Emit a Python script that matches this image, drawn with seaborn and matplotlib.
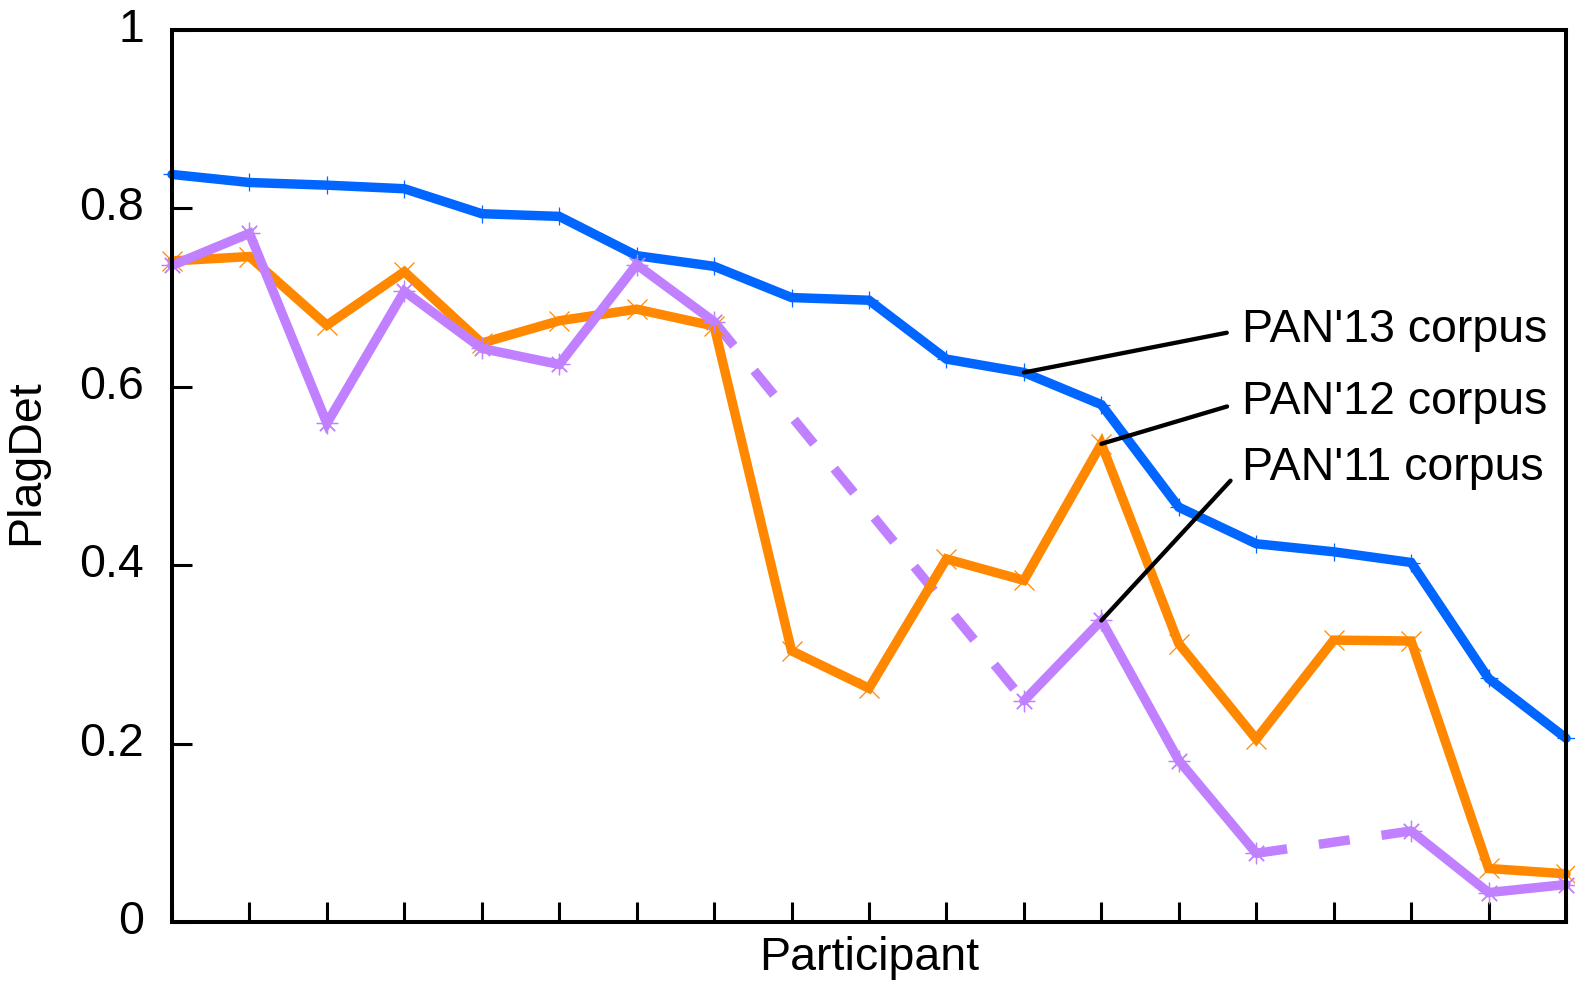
import matplotlib
matplotlib.use("Agg")
import matplotlib.pyplot as plt
import numpy as np
import pandas as pd
import seaborn as sns

# participants (ranked), PlagDet on three corpora; NaN = no result
participants = list(range(19))
pan13 = [0.838, 0.829, 0.826, 0.822, 0.794, 0.791, 0.747, 0.735, 0.700, 0.697,
         0.631, 0.616, 0.580, 0.465, 0.424, 0.415, 0.403, 0.273, 0.206]
pan12 = [0.741, 0.746, 0.669, 0.729, 0.649, 0.674, 0.687, 0.668, 0.304, 0.262,
         0.407, 0.383, 0.536, 0.312, 0.205, 0.316, 0.315, 0.060, 0.054]
pan11 = [0.736, 0.772, 0.559, 0.707, 0.643, 0.625, 0.737, 0.673, np.nan, np.nan,
         np.nan, 0.248, 0.338, 0.181, 0.077, np.nan, 0.102, 0.033, 0.042]
labels = ["PAN'13 corpus", "PAN'12 corpus", "PAN'11 corpus"]
label_y = [0.664, 0.583, 0.509]
label_target = [11, 12, 12]
y_ticks = [0, 0.2, 0.4, 0.6, 0.8, 1]

colors = ["#0066ff", "#ff8800", "#c080ff"]
markers = ["+", "x", (8, 2, 0)]
marker_sizes = [13.5, 14, 15.5]
LW = 6.8
FS = 33.5

sns.set_style("white")
plt.rcParams["font.family"] = ["Liberation Sans", "DejaVu Sans"]
plt.rcParams["font.size"] = FS
for key in ["text.color", "axes.labelcolor", "xtick.color", "ytick.color"]:
    plt.rcParams[key] = "black"

fig = plt.figure(figsize=(15.75, 9.82), dpi=100)
ax = fig.add_axes([0.1092, 0.0611, 0.8851, 0.9084])

series = [pan13, pan12, pan11]
for vals, col, mk, ms in zip(series, colors, markers, marker_sizes):
    df = pd.DataFrame({"x": participants, "y": vals})
    df["seg"] = df["y"].isna().cumsum()
    # dashed bridges over missing values
    valid = df.dropna()
    idx = valid.index.to_numpy()
    for a, b in zip(idx[:-1], idx[1:]):
        if b - a > 1:
            ax.plot([df.x[a], df.x[b]], [df.y[a], df.y[b]], color=col, lw=LW,
                    linestyle=(0, (3.3, 3.4)), dash_capstyle="butt",
                    clip_on=False, zorder=2)
    n_before = len(ax.lines)
    sns.lineplot(data=valid, x="x", y="y", units="seg", estimator=None,
                 color=col, marker=mk, markersize=ms, mew=0.9,
                 mec=col, clip_on=False, ax=ax, zorder=3)
    for ln in ax.lines[n_before:]:
        ln.set_linewidth(LW)
        ln.set_solid_joinstyle("miter")

for lab, ly, tx, vals in zip(labels, label_y, label_target, series):
    ax.annotate(lab, xy=(tx, vals[tx]), xytext=(13.82, ly),
                ha="left", va="center", fontsize=FS,
                arrowprops=dict(arrowstyle="-", color="black", lw=3.1,
                                relpos=(0, 0.5), shrinkA=9, shrinkB=0))

ax.set_xlim(0, 18)
ax.set_ylim(0, 1)
ax.set_xticks(participants)
ax.set_xticklabels([])
ax.set_yticks(y_ticks)
ax.set_yticklabels([f"{v:g}" for v in y_ticks], va="center")
ax.tick_params(direction="in", length=14.5, width=2.2, color="black",
               labelsize=FS, pad=20, bottom=True, left=True,
               top=False, right=False)
ax.tick_params(axis="x", pad=0)
for sp in ax.spines.values():
    sp.set_linewidth(2.9)
    sp.set_color("black")
    sp.set_zorder(4)

ax.set_xlabel("Participant", fontsize=FS, labelpad=10)
ax.set_ylabel("PlagDet", fontsize=FS)
ax.yaxis.set_label_coords(-0.089, 0.516)

fig.savefig("out.png", dpi=100)
